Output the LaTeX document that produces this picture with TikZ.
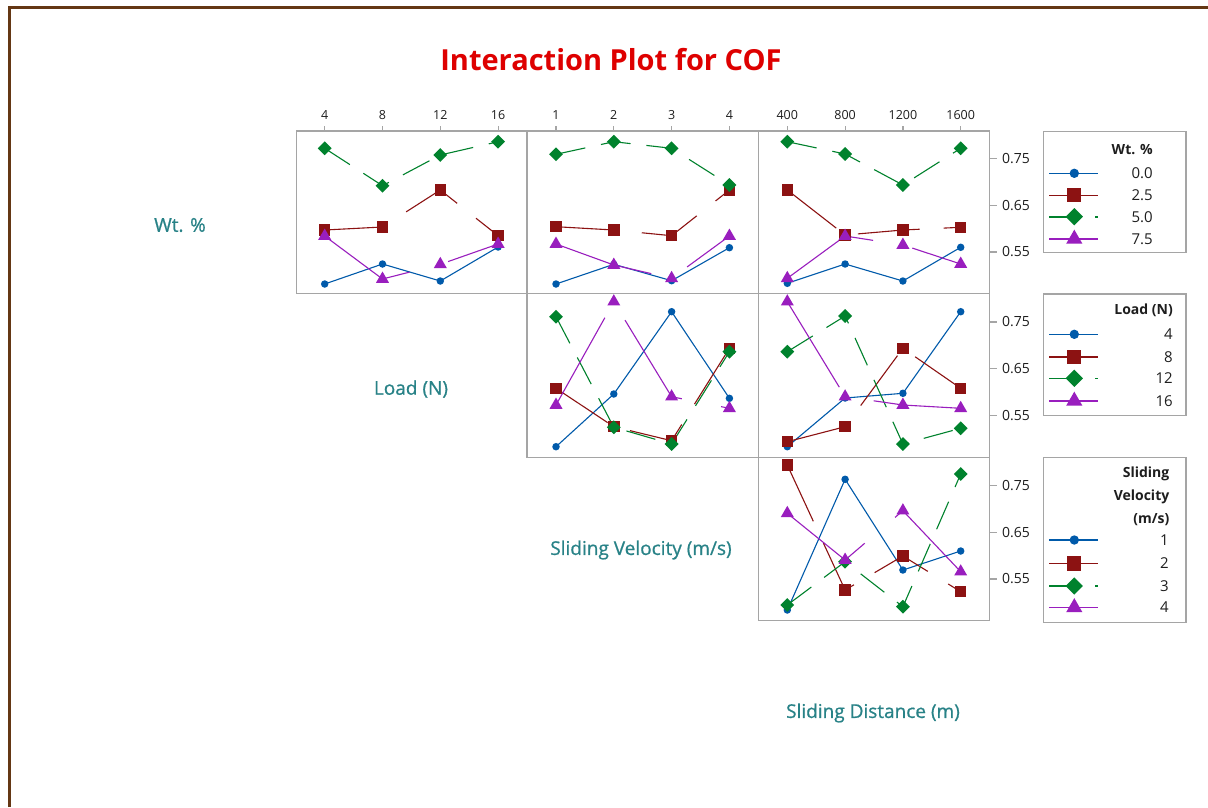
\documentclass[tikz,border=0pt]{standalone}
\usepackage{fontspec}
\setmainfont{Open Sans}
\newfontfamily\semibfont{Open Sans}[FakeBold=0.8]
\usetikzlibrary{shapes.geometric}
\definecolor{cblue}{RGB}{0,90,170}
\definecolor{cred}{RGB}{140,18,18}
\definecolor{cgreen}{RGB}{0,130,45}
\definecolor{cpurple}{RGB}{153,30,190}
\definecolor{cteal}{RGB}{40,130,135}
\definecolor{ctitle}{RGB}{222,0,0}
\definecolor{cgray}{RGB}{165,165,165}
\definecolor{cbrown}{RGB}{100,55,20}
\definecolor{ctext}{RGB}{30,30,30}
\tikzset{
  panelbox/.style={draw=cgray, line width=1.4pt},
  tickln/.style={draw=cgray, line width=1.2pt},
  bl/.style={draw=cblue, line width=1.1pt},
  rl/.style={draw=cred, line width=1.1pt, dash pattern=on 62pt off 24pt},
  gl/.style={draw=cgreen, line width=1.1pt, dash pattern=on 30pt off 16pt},
  pl/.style={draw=cpurple, line width=1.1pt, dash pattern=on 100pt off 40pt},
  bm/.style={circle, fill=cblue, inner sep=0pt, minimum size=7.5pt},
  rm/.style={rectangle, fill=cred, inner sep=0pt, minimum size=11.5pt},
  gm/.style={diamond, fill=cgreen, inner sep=0pt, minimum width=14pt, minimum height=14pt},
  pm/.style={regular polygon, regular polygon sides=3, fill=cpurple, inner sep=0pt, minimum size=15pt},
  legline/.style={line width=1.6pt},
  xtl/.style={font=\fontsize{12.5}{14}\selectfont, text=ctext, inner sep=0pt},
  ytl/.style={font=\fontsize{14}{16}\selectfont, text=ctext, inner sep=0pt, anchor=west},
  axl/.style={font=\semibfont\fontsize{19}{22}\selectfont, text=cteal, inner sep=0pt},
  legt/.style={font=\bfseries\fontsize{14}{16}\selectfont, text=ctext, inner sep=0pt, anchor=east},
  legl/.style={font=\fontsize{15}{17}\selectfont, text=ctext, inner sep=0pt, anchor=east},
}
\newcommand\serline[7]{%
  \coordinate (#1-1) at ({324.7+231.3*#3},#4);
  \coordinate (#1-2) at ({382.5+231.3*#3},#5);
  \coordinate (#1-3) at ({440.3+231.3*#3},#6);
  \coordinate (#1-4) at ({498.1+231.3*#3},#7);
  \draw[#2] (#1-1) -- (#1-2) -- (#1-3) -- (#1-4);
}
\newcommand\sermark[2]{%
  \foreach \k in {1,...,4} {\node[#2] (#1-m\k) at (#1-\k) {};}
}
\newcommand\legentry[4]{% id, line style, mark style, y
  \coordinate (#1-a) at (1049.3,#4);
  \coordinate (#1-b) at (1097.7,#4);
  \draw[#2,legline] (#1-a) -- (#1-b);
  \node[#3,scale=1.25] (#1-m) at (1074.3,#4) {};
}
\begin{document}
\begin{tikzpicture}[x=1pt,y=-1pt]
\useasboundingbox (0,0) rectangle (1208,807);
\fill[white] (0,0) rectangle (1208,807);
\draw[cbrown, line width=3pt] (9,807) -- (9,7) -- (1208,7);

\node[font=\bfseries\fontsize{29}{32}\selectfont, text=ctitle] (title) at (611,60) {Interaction Plot for COF};

% axis labels
\node[axl] (lab1) at (180,225) {Wt. \%};
\node[axl] (lab2) at (411,389) {Load (N)};
\node[axl] (lab3) at (641,550) {Sliding Velocity (m/s)};
\node[axl] (lab4) at (873,713) {Sliding Distance (m)};

% top ticks and labels
\foreach \c/\la/\lb/\lc/\ld in {0/4/8/12/16, 1/1/2/3/4, 2/400/800/1200/1600} {
  \foreach \k/\t in {0/\la,1/\lb,2/\lc,3/\ld} {
    \coordinate (tk\c\k) at ({324.7+231.3*\c+57.8*\k},126.3);
    \coordinate (tb\c\k) at ({324.7+231.3*\c+57.8*\k},131);
    \draw[tickln] (tk\c\k) -- (tb\c\k);
    \node[xtl] (tl\c\k) at ({324.7+231.3*\c+57.8*\k},115) {\t};
  }
}
% right ticks and labels
\foreach \r in {0,1,2} {
  \foreach \y/\t/\i in {158.5/0.75/1, 205.3/0.65/2, 252/0.55/3} {
    \coordinate (ya\r\i) at (989.3,{\y+163.5*\r});
    \coordinate (yb\r\i) at (996.5,{\y+163.5*\r});
    \draw[tickln] (ya\r\i) -- (yb\r\i);
    \node[ytl] (yl\r\i) at (1002,{\y+163.5*\r}) {\t};
  }
}

% Panel A (row 1, col 0)
\serline{A1}{bl}{0}{284}{264}{281}{247}
\serline{A2}{rl}{0}{230}{227}{190}{235.7}
\serline{A3}{gl}{0}{148.3}{185.7}{155}{141.7}
\serline{A4}{pl}{0}{236}{279}{264.3}{244}
\sermark{A1}{bm}\sermark{A2}{rm}\sermark{A3}{gm}\sermark{A4}{pm}

% Panel B (row 1, col 1)
\serline{B1}{bl}{1}{284}{264.3}{280.7}{247.7}
\serline{B2}{rl}{1}{226.7}{230}{235.7}{190}
\serline{B3}{gl}{1}{154.3}{141.7}{148.3}{185}
\serline{B4}{pl}{1}{244}{265}{278.3}{236}
\sermark{B1}{bm}\sermark{B2}{rm}\sermark{B3}{gm}\sermark{B4}{pm}

% Panel C (row 1, col 2)
\serline{C1}{bl}{2}{283.3}{264}{281}{247.3}
\serline{C2}{rl}{2}{190}{235}{230}{227.3}
\serline{C3}{gl}{2}{141.7}{154}{185}{148.3}
\serline{C4}{pl}{2}{278.3}{236}{245}{264}
\sermark{C1}{bm}\sermark{C2}{rm}\sermark{C3}{gm}\sermark{C4}{pm}

% Panel D (row 2, col 1)
\serline{D1}{bl}{1}{446.7}{394}{311.7}{398.3}
\serline{D2}{rl}{1}{388.3}{426.7}{440.7}{348.3}
\serline{D3}{gl}{1}{316.7}{427.3}{444}{351.7}
\serline{D4}{pl}{1}{405}{301.7}{396.7}{408.3}
\sermark{D1}{bm}\sermark{D2}{rm}\sermark{D3}{gm}\sermark{D4}{pm}

% Panel E (row 2, col 2)
\serline{E1}{bl}{2}{446.7}{398}{393.3}{311.7}
\serline{E2}{rl}{2}{441.7}{426.7}{348.3}{388.3}
\serline{E3}{gl}{2}{351.7}{316}{444}{428.3}
\serline{E4}{pl}{2}{301.7}{396.7}{405}{408.3}
\sermark{E1}{bm}\sermark{E2}{rm}\sermark{E3}{gm}\sermark{E4}{pm}

% Panel F (row 3, col 2)
\serline{F1}{bl}{2}{610}{479.3}{570}{551}
\serline{F2}{rl}{2}{465}{590}{556}{591.7}
\serline{F3}{gl}{2}{605}{561.7}{606.7}{474}
\serline{F4}{pl}{2}{513.3}{560}{510.7}{571.7}
\sermark{F1}{bm}\sermark{F2}{rm}\sermark{F3}{gm}\sermark{F4}{pm}

% panel frames
\draw[panelbox] (296.7,131) rectangle (527,293.5);
\draw[panelbox] (527,131) rectangle (758.3,293.5);
\draw[panelbox] (758.3,131) rectangle (989.3,293.5);
\draw[panelbox] (527,293.5) rectangle (758.3,457.3);
\draw[panelbox] (758.3,293.5) rectangle (989.3,457.3);
\draw[panelbox] (758.3,457.3) rectangle (989.3,620.5);

% legend 1
\draw[draw=cgray, line width=1.2pt] (1043.3,131.7) rectangle (1186,252.7);
\node[legt] (lg1t) at (1153,149.5) {Wt. \%};
\legentry{L11}{bl}{bm}{173.3}
\legentry{L12}{rl}{rm}{195.3}
\legentry{L13}{gl}{gm}{216.7}
\legentry{L14}{pl}{pm}{239}
\node[legl] (lg11) at (1153,173.3) {0.0};
\node[legl] (lg12) at (1153,195.3) {2.5};
\node[legl] (lg13) at (1153,216.7) {5.0};
\node[legl] (lg14) at (1153,239) {7.5};

% legend 2
\draw[draw=cgray, line width=1.2pt] (1043.3,294) rectangle (1186,415.7);
\node[legt] (lg2t) at (1173,310.7) {Load (N)};
\legentry{L21}{bl}{bm}{334.3}
\legentry{L22}{rl}{rm}{356.7}
\legentry{L23}{gl}{gm}{378.3}
\legentry{L24}{pl}{pm}{401}
\node[legl] (lg21) at (1173,334.3) {4};
\node[legl] (lg22) at (1173,356.7) {8};
\node[legl] (lg23) at (1173,378.3) {12};
\node[legl] (lg24) at (1173,401) {16};

% legend 3
\draw[draw=cgray, line width=1.2pt] (1043.3,457.3) rectangle (1186,622.7);
\node[legt] (lg3a) at (1169.5,474) {Sliding};
\node[legt] (lg3b) at (1169.5,497.3) {Velocity};
\node[legt] (lg3c) at (1169.5,520) {(m/s)};
\legentry{L31}{bl}{bm}{540}
\legentry{L32}{rl}{rm}{563.5}
\legentry{L33}{gl}{gm}{586}
\legentry{L34}{pl}{pm}{607.5}
\node[legl] (lg31) at (1169,540) {1};
\node[legl] (lg32) at (1169,563.5) {2};
\node[legl] (lg33) at (1169,586) {3};
\node[legl] (lg34) at (1169,607.5) {4};
\end{tikzpicture}
\end{document}
